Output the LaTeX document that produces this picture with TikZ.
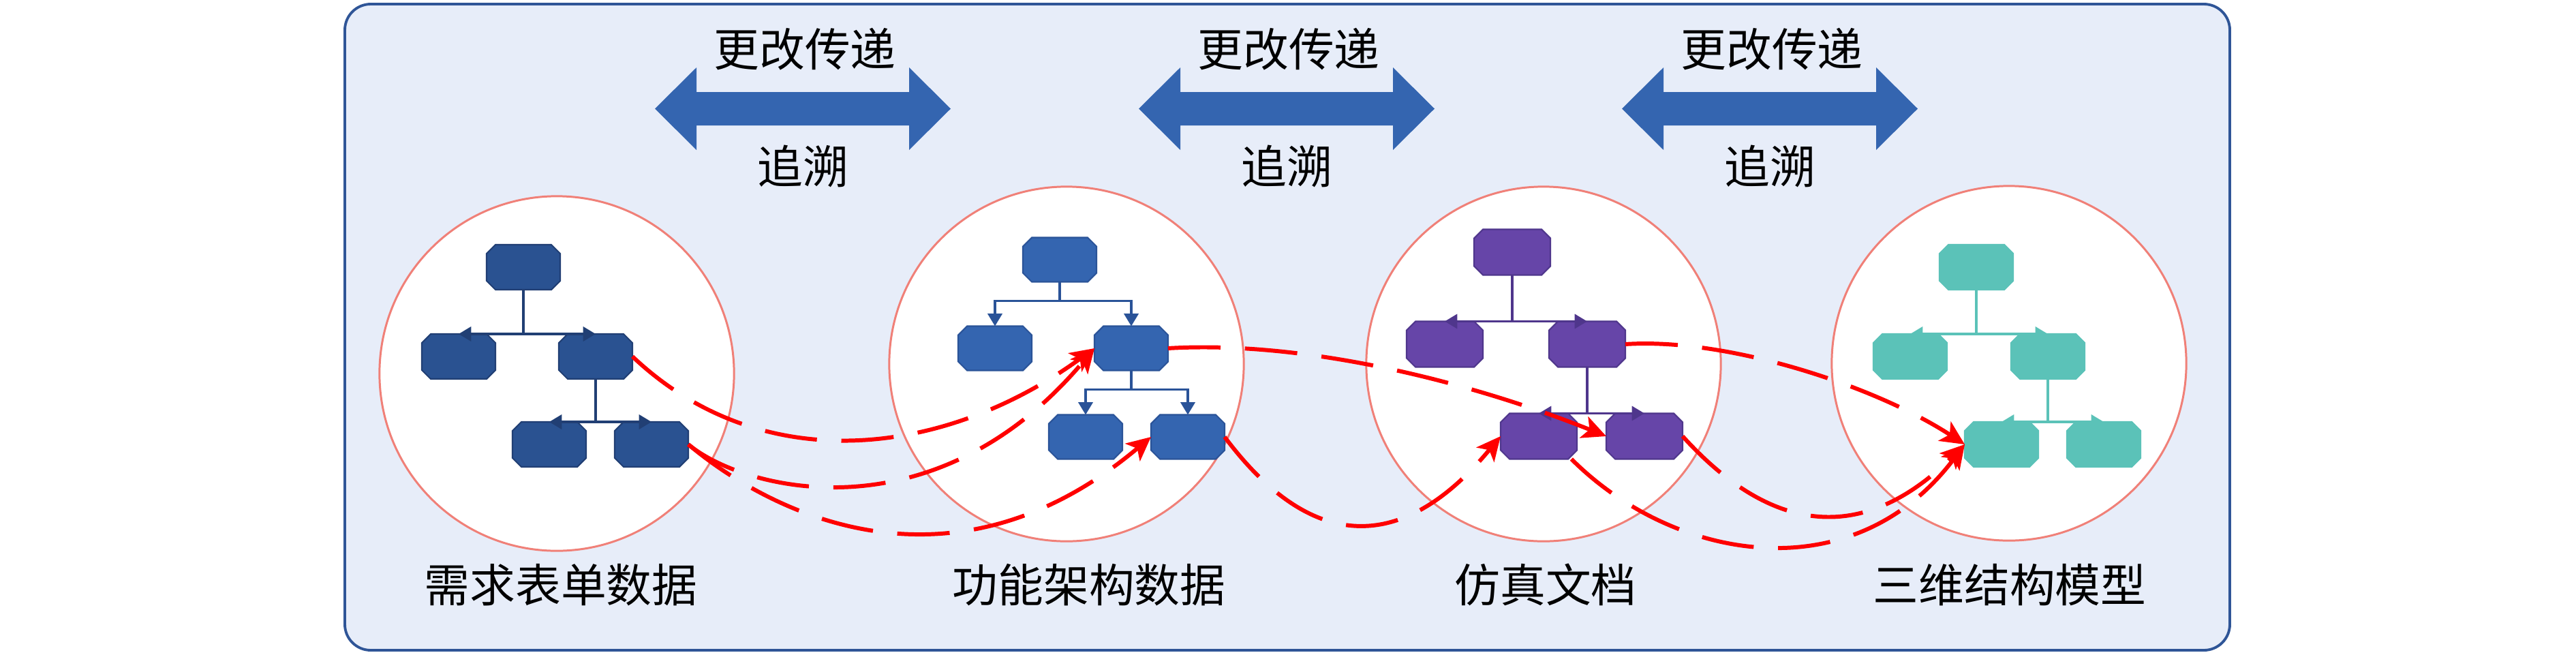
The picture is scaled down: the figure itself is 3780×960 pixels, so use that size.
\documentclass[tikz,border=0pt]{standalone}
\usepackage{fontspec}
\setmainfont{Noto Sans CJK SC}
\usetikzlibrary{arrows.meta,calc}
\definecolor{panelfill}{HTML}{E7EDF9}
\definecolor{panelline}{HTML}{2F5597}
\definecolor{circline}{HTML}{F08078}
\definecolor{bigarrow}{HTML}{3465B0}
\definecolor{fillA}{HTML}{2A5291}
\definecolor{lineA}{HTML}{213F74}
\definecolor{fillB}{HTML}{3465B0}
\definecolor{lineB}{HTML}{2A5398}
\definecolor{fillC}{HTML}{6645A8}
\definecolor{lineC}{HTML}{4F368C}
\definecolor{fillD}{HTML}{5BC2B8}
\definecolor{lineD}{HTML}{5BC2B8}
\definecolor{redline}{HTML}{FF0000}
% chamfered box: name, x, y, style, width, height (px)
\newcommand\chbox[6]{%
  \node[rectangle, minimum width=#5*0.01cm, minimum height=#6*0.01cm, inner sep=0pt, outer sep=0pt] (#1) at (#2,#3) {};
  \draw[#4] ($(#1.north west)+(13,0)$) -- ($(#1.north east)+(-13,0)$) -- ($(#1.north east)+(0,13)$)
    -- ($(#1.south east)+(0,-13)$) -- ($(#1.south east)+(-13,0)$) -- ($(#1.south west)+(13,0)$)
    -- ($(#1.south west)+(0,-13)$) -- ($(#1.north west)+(0,13)$) -- cycle;
}
\begin{document}
\begin{tikzpicture}[x=0.01cm,y=-0.01cm,
  boxA/.style={fill=fillA, draw=lineA, line width=0.6pt},
  boxB/.style={fill=fillB, draw=lineB, line width=0.6pt},
  boxC/.style={fill=fillC, draw=lineC, line width=0.6pt},
  boxD/.style={fill=fillD, draw=lineD, line width=0.6pt},
  conn/.style={line width=0.9pt, -{Triangle[length=5.2pt,width=6pt]}},
  circ/.style={circle, minimum size=5.2cm, inner sep=0pt, draw=circline, fill=white, line width=0.85pt},
  lab/.style={font=\fontsize{19pt}{19pt}\selectfont, inner sep=0pt, text=black},
  redarrow/.style={draw=redline, line width=1.7pt, dash pattern=on 21.9pt off 10.2pt,
    -{Stealth[length=10pt,width=9.5pt,inset=2.5pt]}},
  bigarr/.style={fill=bigarrow}
]
\useasboundingbox (0,0) rectangle (3780,960);
% panel
\draw[fill=panelfill, draw=panelline, line width=1.1pt, rounded corners=0.38cm] (506,6) rectangle (3272,954);
% circles
\node[circ] (c1) at (817,548) {};
\node[circ] (c2) at (1565,534) {};
\node[circ] (c3) at (2265,534) {};
\node[circ] (c4) at (2948,533) {};
% tree 1
\chbox{t1t}{768}{392}{boxA}{108}{66}
\chbox{t1ml}{673}{523}{boxA}{108}{66}
\chbox{t1mr}{874}{523}{boxA}{108}{66}
\chbox{t1bl}{806}{652}{boxA}{108}{66}
\chbox{t1br}{956}{652}{boxA}{108}{66}
\draw[conn, draw=lineA] (t1t.south) -- (t1t.south |- t1ml.north) -- (t1ml.north);
\draw[conn, draw=lineA] (t1t.south) -- (t1t.south |- t1mr.north) -- (t1mr.north);
\draw[conn, draw=lineA] (t1mr.south) -- (t1mr.south |- t1bl.north) -- (t1bl.north);
\draw[conn, draw=lineA] (t1mr.south) -- (t1mr.south |- t1br.north) -- (t1br.north);
% tree 2
\chbox{t2t}{1555}{381}{boxB}{108}{65}
\chbox{t2ml}{1460}{511}{boxB}{108}{65}
\chbox{t2mr}{1660}{511}{boxB}{108}{65}
\chbox{t2bl}{1593}{641}{boxB}{108}{65}
\chbox{t2br}{1743}{641}{boxB}{108}{65}
\draw[conn, draw=lineB] (t2t.south) -- ++(0,28) -| (t2ml.north);
\draw[conn, draw=lineB] (t2t.south) -- ++(0,28) -| (t2mr.north);
\draw[conn, draw=lineB] (t2mr.south) -- ++(0,28) -| (t2bl.north);
\draw[conn, draw=lineB] (t2mr.south) -- ++(0,28) -| (t2br.north);
% tree 3
\chbox{t3t}{2219}{370}{boxC}{112}{67}
\chbox{t3ml}{2120}{505}{boxC}{112}{67}
\chbox{t3mr}{2329}{505}{boxC}{112}{67}
\chbox{t3bl}{2258}{640}{boxC}{112}{67}
\chbox{t3br}{2413}{640}{boxC}{112}{67}
\draw[conn, draw=lineC] (t3t.south) -- (t3t.south |- t3ml.north) -- (t3ml.north);
\draw[conn, draw=lineC] (t3t.south) -- (t3t.south |- t3mr.north) -- (t3mr.north);
\draw[conn, draw=lineC] (t3mr.south) -- (t3mr.south |- t3bl.north) -- (t3bl.north);
\draw[conn, draw=lineC] (t3mr.south) -- (t3mr.south |- t3br.north) -- (t3br.north);
% tree 4
\chbox{t4t}{2900}{392}{boxD}{108}{66}
\chbox{t4ml}{2803}{523}{boxD}{108}{66}
\chbox{t4mr}{3005}{523}{boxD}{108}{66}
\chbox{t4bl}{2937}{652}{boxD}{108}{66}
\chbox{t4br}{3087}{652}{boxD}{108}{66}
\draw[conn, draw=lineD] (t4t.south) -- (t4t.south |- t4ml.north) -- (t4ml.north);
\draw[conn, draw=lineD] (t4t.south) -- (t4t.south |- t4mr.north) -- (t4mr.north);
\draw[conn, draw=lineD] (t4mr.south) -- (t4mr.south |- t4bl.north) -- (t4bl.north);
\draw[conn, draw=lineD] (t4mr.south) -- (t4mr.south |- t4br.north) -- (t4br.north);
% red dashed traces
\draw[redarrow] (t1mr.east) .. controls +(190,180) and +(-220,160) .. (t2mr.west);
\draw[redarrow] (t1br.east) .. controls +(80,67) and +(-236,281) .. (t2mr.west);
\draw[redarrow] (t1br.east) .. controls +(113,95) and +(-299,251) .. (t2br.west);
\draw[redarrow] (t2mr.east) .. controls +(200,-12) and +(-200,-80) .. (t3br.west);
\draw[redarrow] (t2br.east) .. controls +(131,175) and +(-140,169) .. (t3bl.west);
\draw[redarrow] (t3mr.east) .. controls +(150,-10) and +(-130,-85) .. (t4bl.west);
\draw[redarrow] (t3bl.-35) .. controls +(151,151) and +(-163,218) .. (t4bl.west);
\draw[redarrow] (t3br.east) .. controls +(145,160) and +(-134,134) .. (t4bl.west);
% big double arrows
\foreach \cx in {1178,1888,2597}{
  \fill[bigarr, shift={(\cx,159.5)}] (-217,0) -- (-156,-60.5) -- (-156,-24.5) -- (156,-24.5)
    -- (156,-60.5) -- (217,0) -- (156,60.5) -- (156,24.5) -- (-156,24.5) -- (-156,60.5) -- cycle;
}
\node[lab] (u1) at (1181,72) {更改传递};
\node[lab] (d1) at (1178,244) {追溯};
\node[lab] (u2) at (1891,72) {更改传递};
\node[lab] (d2) at (1888,244) {追溯};
\node[lab] (u3) at (2600,72) {更改传递};
\node[lab] (d3) at (2597,244) {追溯};
% labels
\node[lab] (l1) at (823,858) {需求表单数据};
\node[lab] (l2) at (1598,858) {功能架构数据};
\node[lab] (l3) at (2268,858) {仿真文档};
\node[lab] (l4) at (2949,858) {三维结构模型};
\end{tikzpicture}
\end{document}
